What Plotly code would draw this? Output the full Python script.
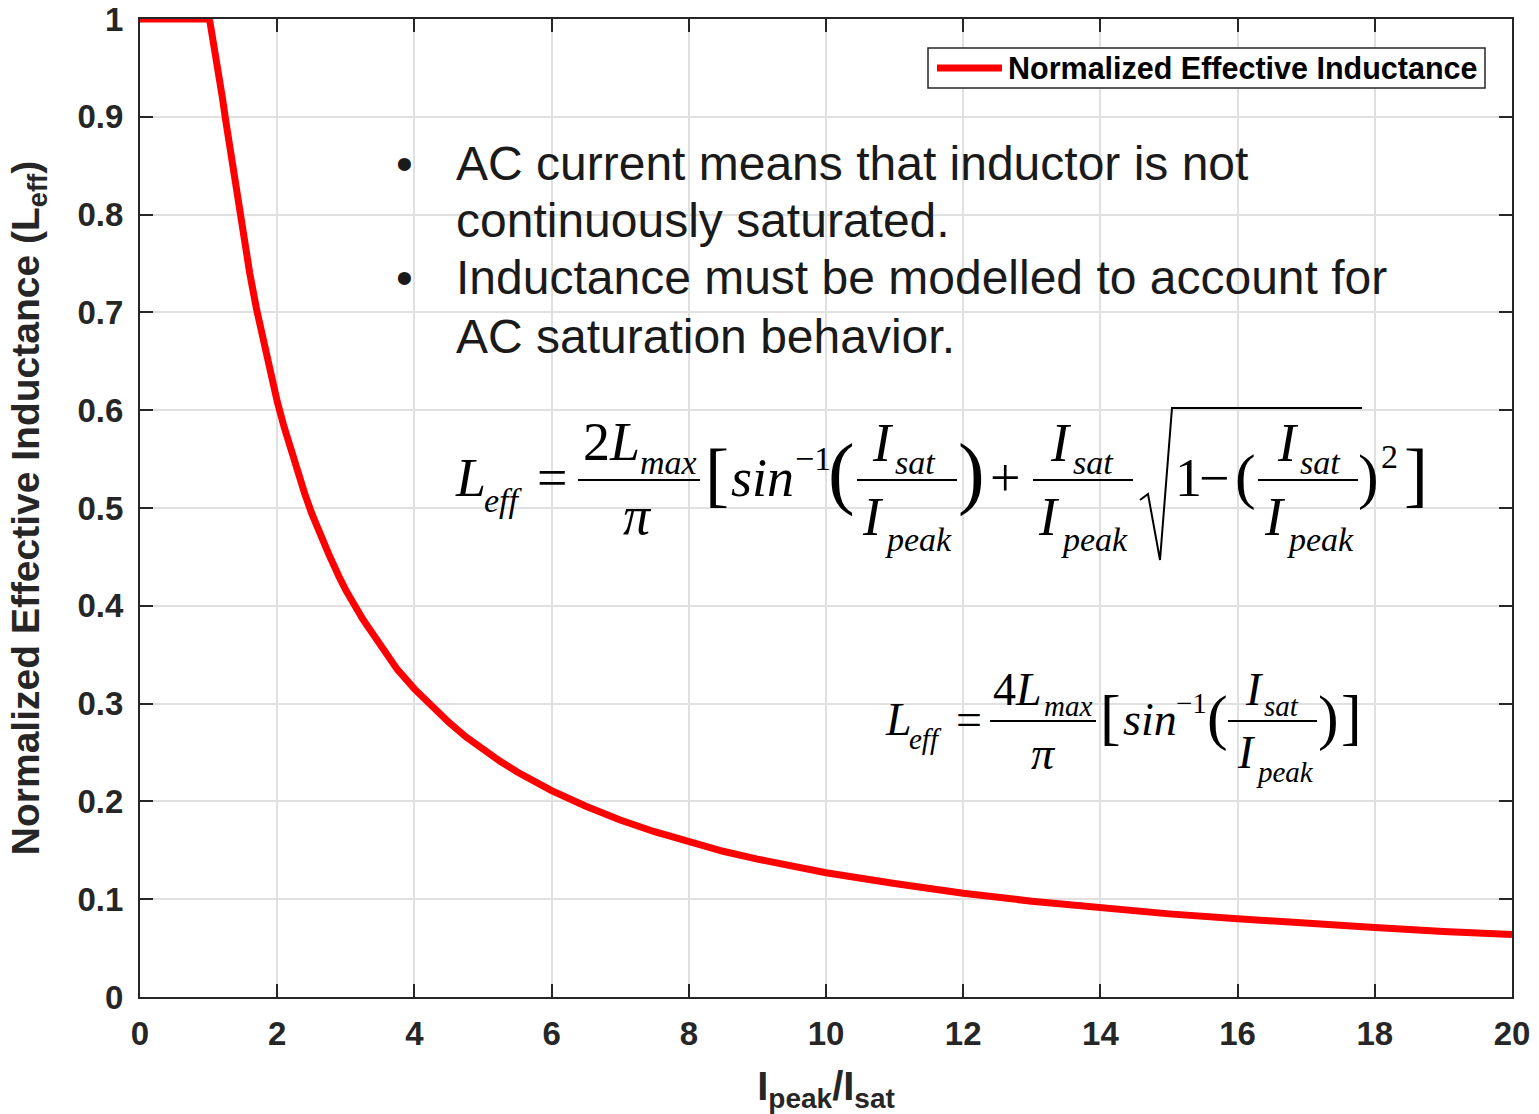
import plotly.graph_objects as go

# ---------------- data ----------------
ipeak_over_isat = [0, 1.0, 1.02, 1.05, 1.1, 1.15, 1.2, 1.25, 1.3, 1.4, 1.5, 1.6, 1.7,
                   1.8, 1.9, 2.0, 2.1, 2.25, 2.4, 2.5, 2.6, 2.75, 2.9, 3.0, 3.25,
                   3.5, 3.75, 4.0, 4.25, 4.5, 4.75, 5.0, 5.25, 5.5, 5.75, 6.0, 6.5,
                   7, 7.5, 8, 8.5, 9, 9.5, 10, 11, 12, 13, 14, 15, 16, 17, 18, 19, 20]
norm_eff_inductance = [1.0, 1.0, 0.997, 0.985, 0.967, 0.945, 0.920, 0.896, 0.872,
                       0.825, 0.781, 0.740, 0.703, 0.669, 0.638, 0.609, 0.583,
                       0.547, 0.515, 0.495, 0.477, 0.453, 0.430, 0.416, 0.386,
                       0.359, 0.335, 0.315, 0.297, 0.281, 0.266, 0.253, 0.241,
                       0.230, 0.220, 0.211, 0.195, 0.181, 0.169, 0.159, 0.149,
                       0.141, 0.134, 0.127, 0.116, 0.106, 0.098, 0.091, 0.085,
                       0.080, 0.075, 0.071, 0.067, 0.064]
series_name = "Normalized Effective Inductance"
x_tick_vals = [0, 2, 4, 6, 8, 10, 12, 14, 16, 18, 20]
y_tick_vals = [0, 0.1, 0.2, 0.3, 0.4, 0.5, 0.6, 0.7, 0.8, 0.9, 1]
y_tick_text = ["0", "0.1", "0.2", "0.3", "0.4", "0.5", "0.6", "0.7", "0.8", "0.9", "1"]
bullet_lines = ["AC current means that inductor is not",
                "continuously saturated.",
                "Inductance must be modelled to account for",
                "AC saturation behavior."]

# ---------------- layout helpers ----------------
W, H = 1539, 1114
L_M, R_M, T_M, B_M = 140, 27, 19, 117
PW, PH = W - L_M - R_M, H - T_M - B_M
SANS = "Liberation Sans, Arial, sans-serif"
SERIF = "Liberation Serif, Times New Roman, serif"
AX = "#262626"


def px(x):
    return (x - L_M) / PW


def py(y):
    return (H - B_M - y) / PH


annotations = []
shapes = []


def txt(t, x, y, size, anchor="left", family=SERIF, color="black", weight="normal"):
    annotations.append(dict(x=px(x), y=py(y), xref="paper", yref="paper", text=t,
                            showarrow=False, xanchor=anchor, yanchor="middle",
                            font=dict(family=family, size=size, color=color,
                                      weight=weight)))


def hline(x0, x1, y, w=2, color="black"):
    shapes.append(dict(type="line", xref="paper", yref="paper", x0=px(x0), x1=px(x1),
                       y0=py(y), y1=py(y), line=dict(color=color, width=w)))


def frac_I(xl_num, xl_den, x0, x1, ybar, s, ss):
    """I_sat / I_peak fraction"""
    txt("<i>I</i>", xl_num, ybar - 0.68 * s, s)
    txt("<i>sat</i>", xl_num + 0.42 * s, ybar - 0.33 * s, ss)
    hline(x0, x1, ybar)
    txt("<i>I</i>", xl_den, ybar + 0.68 * s, s)
    txt("<i>peak</i>", xl_den + 0.42 * s, ybar + 1.1 * s, ss)


# ---------------- legend box (drawn) ----------------
shapes.append(dict(type="rect", xref="paper", yref="paper", x0=px(928), x1=px(1485),
                   y0=py(88), y1=py(48), line=dict(color=AX, width=1.5),
                   fillcolor="white", layer="above"))
hline(937, 1002, 68, w=7, color="#ff0000")
txt(series_name, 1006, 68, 30.5, family=SANS, weight="bold")

# ---------------- bullet text ----------------
bullet_y = [163, 221, 278, 336]
for i, line in enumerate(bullet_lines):
    txt(line, 454, bullet_y[i], 48, family=SANS, color="#1a1a1a")
for yb in (bullet_y[0], bullet_y[2]):
    txt("\u2022", 404, yb, 48, anchor="center", family=SANS, color="#1a1a1a")

# ---------------- equation 1 ----------------
S, SS, YM, YB = 54, 34, 478, 480
txt("<i>L</i>", 453, YM, S)
txt("<i>eff</i>", 482, YM + 22, SS)
txt("=", 535, YM, S)
txt("2<i>L</i>", 581, YM - 36, S)
txt("<i>max</i>", 638, YM - 16, SS)
hline(578, 700, YB)
txt("<i>\u03c0</i>", 637, YM + 38, S, anchor="center")
txt("[", 703, YM - 4, 72)
txt("<i>sin</i>", 729, YM, S)
txt("\u22121", 793, YM - 20, SS)
txt("(", 826, YM - 6, 80)
frac_I(870, 860, 857, 957, YB, S, SS)
txt(")", 956, YM - 6, 80)
txt("+", 988, YM, S)
frac_I(1048, 1036, 1033, 1133, YB, S, SS)
shapes.append(dict(type="path", xref="paper", yref="paper",
                   path="M {} {} L {} {} L {} {} L {} {} L {} {}".format(
                       px(1140), py(500), px(1148), py(494), px(1160), py(560),
                       px(1172), py(408), px(1362), py(408)),
                   line=dict(color="black", width=2)))
txt("1", 1173, YM, S)
txt("\u2212", 1197, YM, S)
txt("(", 1233, YM - 2, 62)
frac_I(1275, 1262, 1258, 1358, YB, S, SS)
txt(")", 1356, YM - 2, 62)
txt("2", 1379, YM - 22, SS)
txt("]", 1402, YM - 4, 72)

# ---------------- equation 2 ----------------
S2, SS2, YM2, YB2 = 46, 29, 720, 721
txt("<i>L</i>", 883, YM2, S2)
txt("<i>eff</i>", 907, YM2 + 19, SS2)
txt("=", 954, YM2, S2)
txt("4<i>L</i>", 991, YM2 - 31, S2)
txt("<i>max</i>", 1042, YM2 - 14, SS2)
hline(990, 1096, YB2)
txt("<i>\u03c0</i>", 1043, YM2 + 33, S2, anchor="center")
txt("[", 1098, YM2 - 3, 62)
txt("<i>sin</i>", 1121, YM2, S2)
txt("\u22121", 1174, YM2 - 17, SS2)
txt("(", 1205, YM2 - 3, 62)
frac_I(1243, 1235, 1228, 1317, YB2, S2, SS2)
txt(")", 1316, YM2 - 3, 62)
txt("]", 1339, YM2 - 3, 62)

# ---------------- figure ----------------
fig = go.Figure()
fig.add_trace(go.Scatter(x=ipeak_over_isat, y=norm_eff_inductance, mode="lines",
                         name=series_name, line=dict(color="#ff0000", width=7),
                         cliponaxis=False, showlegend=False))

axis_common = dict(showline=True, linecolor=AX, linewidth=2, mirror="ticks",
                   ticks="inside", ticklen=13, tickwidth=2, tickcolor=AX,
                   showgrid=True, gridcolor="#e0e0e0", gridwidth=1.5,
                   zeroline=False, automargin=False,
                   tickfont=dict(family=SANS, size=33, color=AX, weight="bold"))

fig.update_xaxes(range=[0, 20], tickvals=x_tick_vals, **axis_common,
                 ticklabelstandoff=6,
                 title=dict(text="I<sub>peak</sub>/I<sub>sat</sub>",
                            font=dict(family=SANS, size=40, color=AX, weight="bold"),
                            standoff=22))
fig.update_yaxes(range=[0, 1], tickvals=y_tick_vals, ticktext=y_tick_text, **axis_common,
                 ticklabelstandoff=8,
                 title=dict(text="Normalized Effective Inductance (L<sub>eff</sub>)",
                            font=dict(family=SANS, size=39, color=AX, weight="bold"),
                            standoff=26))

fig.update_layout(
    width=W, height=H, autosize=False,
    margin=dict(l=L_M, r=R_M, t=T_M, b=B_M),
    paper_bgcolor="white", plot_bgcolor="white",
    showlegend=False,
    annotations=annotations, shapes=shapes,
)

fig.write_html("out.html")
